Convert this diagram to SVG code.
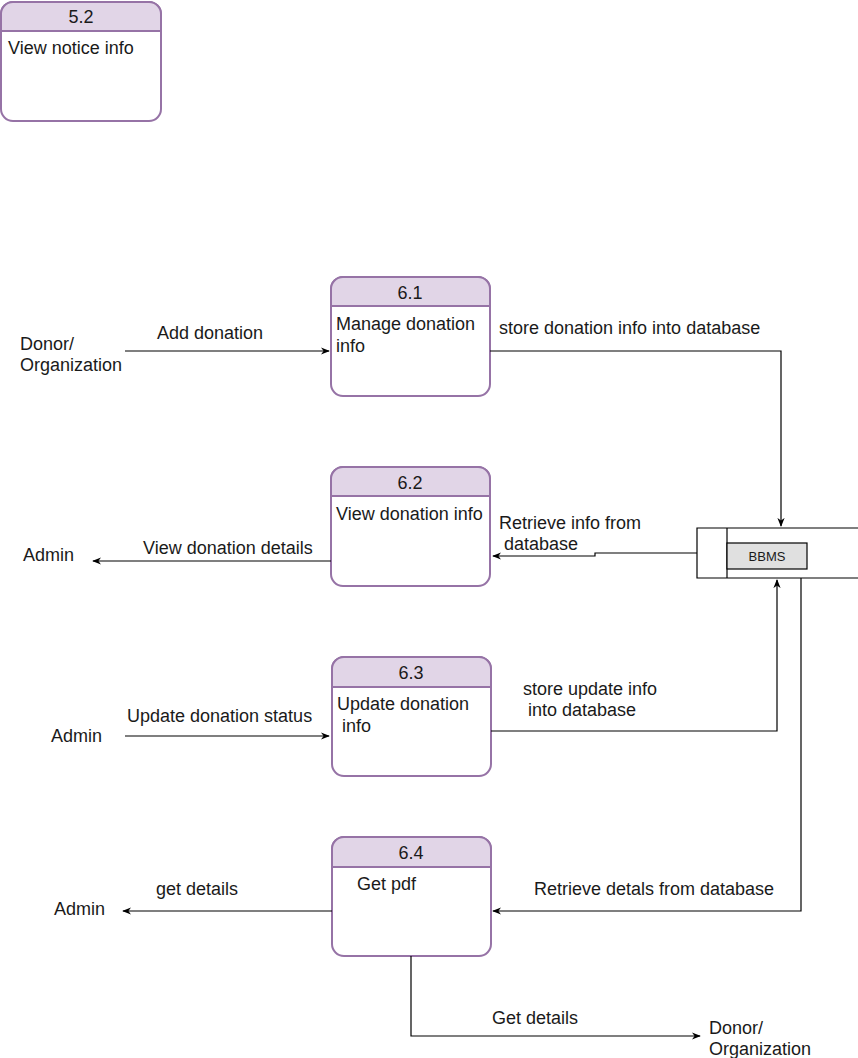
<svg xmlns="http://www.w3.org/2000/svg" width="858" height="1058" viewBox="0 0 858 1058">
<style>
text{font-family:"Liberation Sans",Arial,sans-serif;font-size:18px;fill:#1a1a1a}
.c{text-anchor:middle}
.box{fill:#fff;stroke:#9673a6;stroke-width:2}
.hd{fill:#e1d5e7;stroke:#9673a6;stroke-width:2}
.ln{fill:none;stroke:#000;stroke-width:1.2}
.st{fill:#fff;stroke:#000;stroke-width:1.2}
</style>
<defs>
<marker id="ar" viewBox="0 0 10 10" refX="9" refY="5" markerWidth="9" markerHeight="9" markerUnits="userSpaceOnUse" orient="auto">
<path d="M0,1 L10,5 L0,9 L3,5 Z" fill="#000"/>
</marker>
</defs>
<g id="n52">
<rect class="box" x="1" y="2" width="160" height="119" rx="12"/>
<path class="hd" d="M1,31 V14 A12,12 0 0 1 13,2 H149 A12,12 0 0 1 161,14 V31 Z"/>
<text class="c" x="81" y="23">5.2</text>
<text x="8" y="54">View notice info</text>
</g>
<g id="n61">
<rect class="box" x="331" y="277" width="159" height="119" rx="12"/>
<path class="hd" d="M331,306 V289 A12,12 0 0 1 343,277 H478 A12,12 0 0 1 490,289 V306 Z"/>
<text class="c" x="410" y="299">6.1</text>
<text x="336" y="330">Manage donation</text>
<text x="336" y="352">info</text>
</g>
<g id="n62">
<rect class="box" x="331" y="467" width="159" height="119" rx="12"/>
<path class="hd" d="M331,496 V479 A12,12 0 0 1 343,467 H478 A12,12 0 0 1 490,479 V496 Z"/>
<text class="c" x="410" y="489">6.2</text>
<text x="336" y="520">View donation info</text>
</g>
<g id="n63">
<rect class="box" x="332" y="657" width="159" height="119" rx="12"/>
<path class="hd" d="M332,687 V669 A12,12 0 0 1 344,657 H479 A12,12 0 0 1 491,669 V687 Z"/>
<text class="c" x="411" y="679">6.3</text>
<text x="337" y="710">Update donation</text>
<text x="342" y="732">info</text>
</g>
<g id="n64">
<rect class="box" x="332" y="837" width="159" height="119" rx="12"/>
<path class="hd" d="M332,867 V849 A12,12 0 0 1 344,837 H479 A12,12 0 0 1 491,849 V867 Z"/>
<text class="c" x="411" y="859">6.4</text>
<text x="357" y="890">Get pdf</text>
</g>
<g id="bbms">
<path class="st" d="M858,528 H697 V578 H858"/>
<line class="ln" x1="727" y1="528" x2="727" y2="578"/>
<rect x="727" y="543" width="80" height="26" fill="#e0e0e0" stroke="#000" stroke-width="1.2"/>
<text class="c" x="767" y="561" style="font-size:13px">BBMS</text>
</g>
<g id="ext">
<text x="20" y="350">Donor/</text>
<text x="20" y="371">Organization</text>
<text x="23" y="561">Admin</text>
<text x="51" y="742">Admin</text>
<text x="54" y="915">Admin</text>
<text x="709" y="1034">Donor/</text>
<text x="709" y="1055">Organization</text>
</g>
<g id="connectors">
<path class="ln" d="M125,351 H329" marker-end="url(#ar)"/>
<path class="ln" d="M490,351 H781 V526" marker-end="url(#ar)"/>
<path class="ln" d="M697,553 H595 V556 H493" marker-end="url(#ar)"/>
<path class="ln" d="M331,561 H93" marker-end="url(#ar)"/>
<path class="ln" d="M125,736 H329" marker-end="url(#ar)"/>
<path class="ln" d="M491,731 H777 V580" marker-end="url(#ar)"/>
<path class="ln" d="M801,578 V911 H493" marker-end="url(#ar)"/>
<path class="ln" d="M332,911 H123" marker-end="url(#ar)"/>
<path class="ln" d="M411,956 V1036 H700" marker-end="url(#ar)"/>
<text x="157" y="339">Add donation</text>
<text x="499" y="334">store donation info into database</text>
<text x="499" y="529">Retrieve info from</text>
<text x="504" y="550">database</text>
<text x="143" y="554">View donation details</text>
<text x="523" y="695">store update info</text>
<text x="528" y="716">into database</text>
<text x="127" y="722">Update donation status</text>
<text x="156" y="895">get details</text>
<text x="534" y="895">Retrieve detals from database</text>
<text x="492" y="1024">Get details</text>
</g>
</svg>
